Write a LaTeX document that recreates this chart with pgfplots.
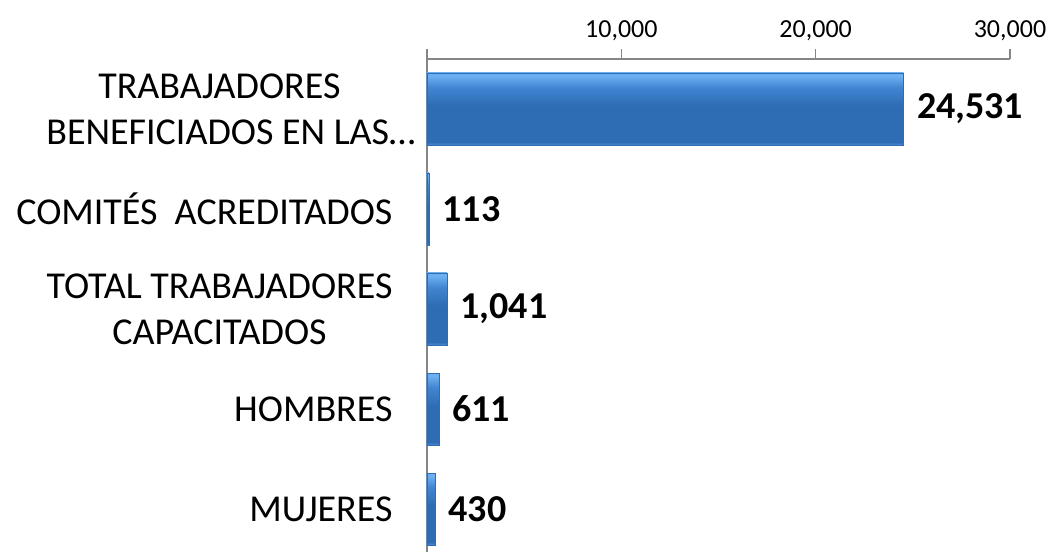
\documentclass[border=0pt]{standalone}
\usepackage{fontspec}
\setmainfont{Carlito}
\usepackage{pgfplots}
\pgfplotsset{compat=1.18}
\definecolor{barmain}{HTML}{2E6CB4}
\definecolor{barmid}{HTML}{4186D2}
\definecolor{barlight}{HTML}{6DB0F2}
\definecolor{barbot}{HTML}{4A8AD8}
\definecolor{axgray}{HTML}{868686}
\pgfdeclareverticalshading{barshade}{100bp}{color(0bp)=(barbot); color(25bp)=(barbot); color(27bp)=(barmain); color(52bp)=(barmain); color(65bp)=(barmid); color(73bp)=(barlight); color(75bp)=(barlight); color(100bp)=(barlight)}
\pgfplotsset{mybar/.style={draw=barmain, line width=0.6pt, shade, shading=barshade, bar shift=0pt}}
\begin{document}
\begin{tikzpicture}
\useasboundingbox (-427pt,0pt) rectangle (622pt,552pt);
\begin{axis}[
  scale only axis,
  width=583pt, height=493pt,
  xmin=0, xmax=30000,
  ymin=-0.43, ymax=4.5,
  axis x line=top,
  axis y line=left,
  axis line style={axgray, line width=1.2pt, -},
  scaled x ticks=false,
  xtick={0,10000,20000,30000},
  xticklabels={,{10,000},{20,000},{30,000}},
  tick align=outside,
  major tick length=10pt,
  x tick style={axgray, line width=1.2pt},
  ytick={0,1,2,3,4},
  yticklabels={MUJERES,HOMBRES,{TOTAL TRABAJADORES\\CAPACITADOS},{COMITÉS\ \ ACREDITADOS},{TRABAJADORES\\BENEFICIADOS EN LAS…\hspace*{-23pt}}},
  y tick style={draw=none},
  yticklabel style={font=\fontsize{38}{46}\selectfont, align=center, anchor=east, xshift=-21pt},
  xticklabel style={font=\fontsize{26}{30}\selectfont, yshift=5pt},
  xbar,
  bar width=0.72,
  nodes near coords,
  nodes near coords style={font=\fontsize{38}{44}\selectfont\bfseries, anchor=west, inner sep=0pt, xshift=13pt,
    /pgf/number format/.cd, 1000 sep={,}, assume math mode=true},
  clip=false,
]
\addplot[mybar] coordinates {(430,0)};
\addplot[mybar] coordinates {(611,1)};
\addplot[mybar] coordinates {(1041,2)};
\addplot[mybar] coordinates {(113,3)};
\addplot[mybar] coordinates {(24531,4)};
\end{axis}
\end{tikzpicture}
\end{document}
